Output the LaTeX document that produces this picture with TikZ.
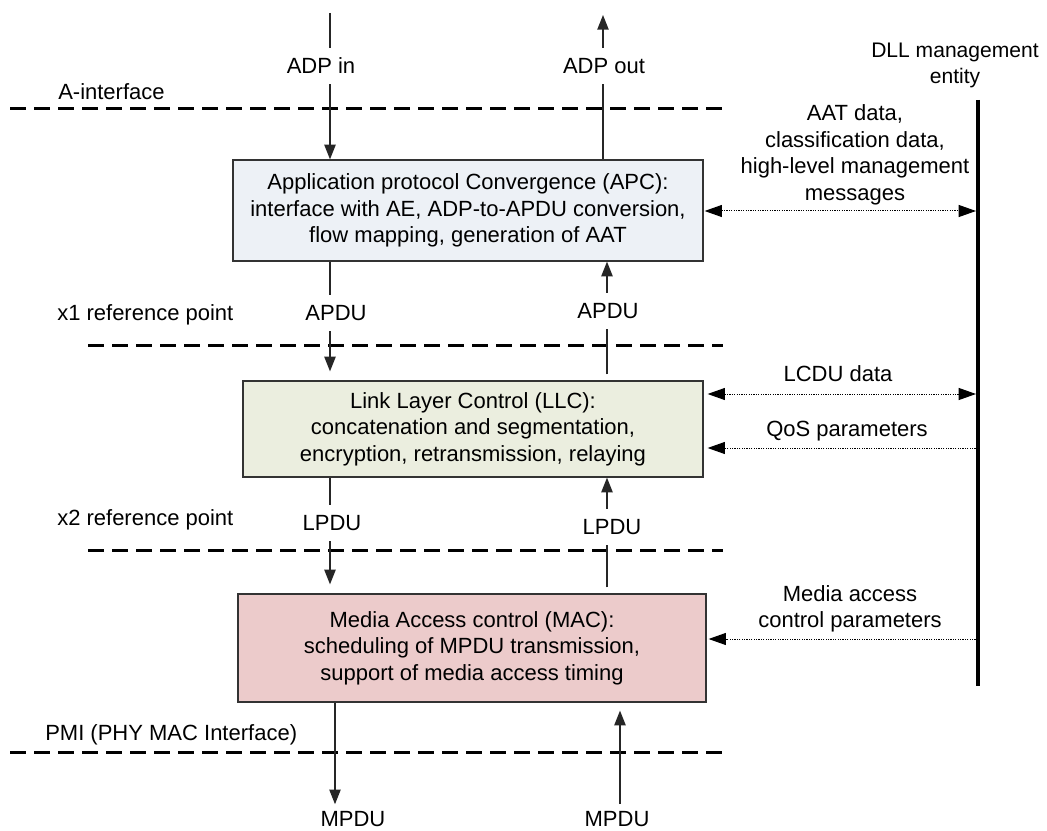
\documentclass[tikz,border=0pt]{standalone}
\usepackage{fontspec}
\setmainfont{Liberation Sans}
\usetikzlibrary{arrows.meta,calc}

\definecolor{apcfill}{RGB}{237,241,246}
\definecolor{llcfill}{RGB}{235,238,223}
\definecolor{macfill}{RGB}{236,203,203}

\begin{document}
\begin{tikzpicture}[x=0.75pt,y=-0.75pt,
  every node/.style={font=\fontsize{16.5}{19.9}\selectfont, inner sep=0pt},
  layerbox/.style={draw=black!80, line width=0.9pt, align=center, inner sep=0pt},
  tag/.style={inner xsep=0pt, inner ysep=7.5pt, text height=11.8pt, text depth=0pt},
  lbl/.style={text height=11.8pt, text depth=0pt},
  note/.style={align=center},
  flow/.style={line width=1pt, draw=black!85},
  flowarr/.style={flow, -{Triangle[length=11pt,width=8.5pt]}},
  refline/.style={line width=2.25pt, dash pattern=on 12pt off 6pt},
  mgmt/.style={line width=0.75pt, dash pattern=on 0.9pt off 0.9pt},
  mgmtone/.style={mgmt, -{Triangle[length=13pt,width=9pt]}},
  mgmttwo/.style={mgmt, {Triangle[length=13pt,width=9pt]}-{Triangle[length=13pt,width=9pt]}},
  bus/.style={line width=3pt}
]
\useasboundingbox (0,0) rectangle (1047,831);

% reference lines between the layers
\draw[refline] (10,109) -- (723,109);
\draw[refline] (88,345) -- (723,345);
\draw[refline] (88,550) -- (723,550);
\draw[refline] (10,752) -- (723,752);

\node[lbl, anchor=west] (aif) at (58,92) {A-interface};
\node[lbl, anchor=west] (xone) at (57,313) {x1 reference point};
\node[lbl, anchor=west] (xtwo) at (57,518) {x2 reference point};
\node[lbl, anchor=west] (pmi) at (45,733) {PMI (PHY MAC Interface)};

% layer boxes
\node[layerbox, fill=apcfill, minimum width=352.5pt, minimum height=75.75pt] (apc) at (468,210.5)
  {Application protocol Convergence (APC):\\interface with AE, ADP-to-APDU conversion,\\flow mapping, generation of AAT};
\node[layerbox, fill=llcfill, minimum width=345pt, minimum height=72pt] (llc) at (473,429)
  {Link Layer Control (LLC):\\concatenation and segmentation,\\encryption, retransmission, relaying};
\node[layerbox, fill=macfill, minimum width=351pt, minimum height=81pt] (mac) at (472,648)
  {Media Access control (MAC):\\scheduling of MPDU transmission,\\support of media access timing};

% data unit labels
\node[tag] (adpin) at (321,66) {ADP in};
\node[tag] (adpout) at (604,66) {ADP out};
\node[tag] (apduL) at (336,313) {APDU};
\node[tag] (apduR) at (608,311) {APDU};
\node[tag] (lpduL) at (332,523) {LPDU};
\node[tag] (lpduR) at (612,527) {LPDU};
\node[tag, inner ysep=5pt] (mpduL) at (353,819) {MPDU};
\node[tag, inner ysep=5pt] (mpduR) at (617,819) {MPDU};

% columns of the data path
\coordinate (dn) at (330,13);
\coordinate (dnlow) at (335,0);
\coordinate (up) at (603,15);
\coordinate (upmid) at (607,0);
\coordinate (uplow) at (620,0);

% downward path
\draw[flow] (dn) -- (dn |- adpin.north);
\draw[flowarr] (dn |- adpin.south) -- (dn |- apc.north);
\draw[flow] (dn |- apc.south) -- (dn |- apduL.north);
\draw[flowarr, shorten >=6.75pt] (dn |- apduL.south) -- (dn |- llc.north);
\draw[flow] (dn |- llc.south) -- (dn |- lpduL.north);
\draw[flowarr, shorten >=6.75pt] (dn |- lpduL.south) -- (dn |- mac.north);
\draw[flowarr] (dnlow |- mac.south) -- (dnlow |- mpduL.north);

% upward path
\draw[flowarr] (up |- adpout.north) -- (up);
\draw[flow] (up |- apc.north) -- (up |- adpout.south);
\draw[flowarr] (upmid |- apduR.north) -- (upmid |- apc.south);
\draw[flow, shorten <=4.5pt] (upmid |- llc.north) -- (upmid |- apduR.south);
\draw[flowarr] (upmid |- lpduR.north) -- (upmid |- llc.south);
\draw[flow, shorten <=4.5pt] (upmid |- mac.north) -- (upmid |- lpduR.south);
\draw[flowarr, shorten >=6pt] (uplow |- mpduR.north) -- (uplow |- mac.south);

% DLL management entity
\node[note, font=\fontsize{15.8}{19.5}\selectfont] (dll) at (955,65.5) {DLL management\\entity};
\coordinate (dtop) at (978,100);
\coordinate (dbot) at (978,686);
\draw[bus] (dtop) -- (dbot);

\node[note] (aat) at (855,155) {AAT data,\\classification data,\\high-level management\\messages};
\node[lbl] (lcdu) at (838,374) {LCDU data};
\node[lbl] (qos) at (847,429) {QoS parameters};
\node[note] (macp) at (850,609) {Media access\\control parameters};

\coordinate (yaat) at (0,211);
\coordinate (ylcdu) at (0,394);
\coordinate (yqos) at (0,448);
\coordinate (ymac) at (0,639);

\draw[mgmttwo, shorten <=0.75pt, shorten >=1.5pt] (apc.east |- yaat) -- (dtop |- yaat);
\draw[mgmttwo, shorten <=3pt, shorten >=1.5pt] (llc.east |- ylcdu) -- (dtop |- ylcdu);
\draw[mgmtone, shorten >=3pt] (dtop |- yqos) -- (llc.east |- yqos);
\draw[mgmtone, shorten >=1.5pt] (dtop |- ymac) -- (mac.east |- ymac);
\end{tikzpicture}
\end{document}
